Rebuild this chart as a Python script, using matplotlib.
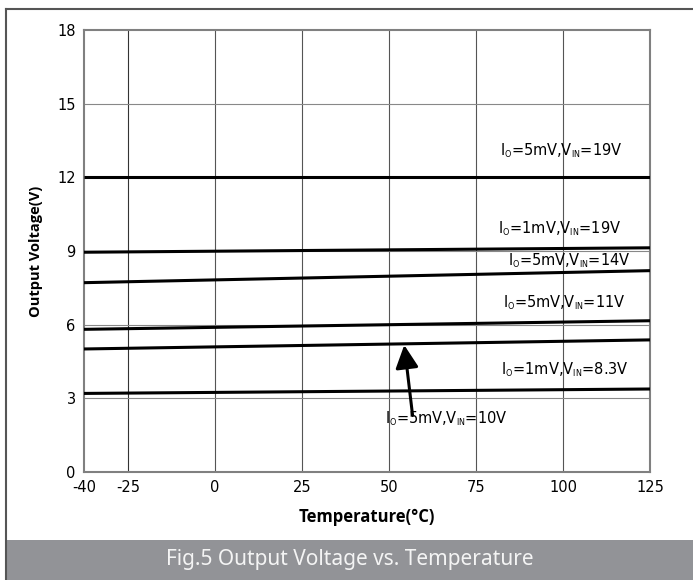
import numpy as np
import matplotlib
matplotlib.use("Agg")
import matplotlib.pyplot as plt
from matplotlib.lines import Line2D
from matplotlib.patches import Rectangle
from matplotlib import font_manager

try:
    import matplotlib._mathtext as _mt
    _mt.SHRINK_FACTOR = 0.55
except Exception:
    pass

# ---- data ----
temps = [-40, 125]
v_5mA_19V = [12.0, 12.0]
v_1mA_19V = [8.95, 9.13]
v_5mA_14V = [7.71, 8.20]
v_5mA_11V = [5.81, 6.16]
v_5mA_10V = [5.01, 5.38]
v_1mA_8V3 = [3.20, 3.38]

series = [v_5mA_19V, v_1mA_19V, v_5mA_14V, v_5mA_11V, v_5mA_10V, v_1mA_8V3]

labels = [
    r'I$_{\mathregular{O}}$=5mV,V$_{\mathregular{IN}}$=19V',
    r'I$_{\mathregular{O}}$=1mV,V$_{\mathregular{IN}}$=19V',
    r'I$_{\mathregular{O}}$=5mV,V$_{\mathregular{IN}}$=14V',
    r'I$_{\mathregular{O}}$=5mV,V$_{\mathregular{IN}}$=11V',
    r'I$_{\mathregular{O}}$=5mV,V$_{\mathregular{IN}}$=10V',
    r'I$_{\mathregular{O}}$=1mV,V$_{\mathregular{IN}}$=8.3V',
]
label_pos = [(99.5, 13.08), (99.2, 9.93), (101.8, 8.60), (100.4, 6.89), (66.4, 2.16), (100.5, 4.15)]

xticks = [-40, -25, 0, 25, 50, 75, 100, 125]
yticks = [0, 3, 6, 9, 12, 15, 18]

# pick a bold-capable sans family
bold_family = 'DejaVu Sans'
for fam in ['Open Sans', 'Lato', 'Noto Sans', 'Roboto']:
    try:
        fp = font_manager.FontProperties(family=fam, weight='bold')
        path = font_manager.findfont(fp, fallback_to_default=False)
        if 'bold' in path.lower() or 'black' in path.lower() or 'heavy' in path.lower():
            bold_family = fam
            break
    except Exception:
        pass

# ---- figure ----
W, H = 693, 580
fig = plt.figure(figsize=(W / 100, H / 100), dpi=100)
fig.patch.set_facecolor('white')

# outer frame
fig.add_artist(Line2D([6 / W, 6 / W], [0, 1 - 9 / H], transform=fig.transFigure, color='#555555', lw=1.5))
fig.add_artist(Line2D([6 / W, 1], [1 - 9 / H, 1 - 9 / H], transform=fig.transFigure, color='#555555', lw=1.5))
# caption band
fig.add_artist(Rectangle((7 / W, 0), 1 - 7 / W, 40 / H, transform=fig.transFigure,
                         facecolor='#929397', edgecolor='none'))
fig.text(350 / W, 20 / H, 'Fig.5 Output Voltage vs. Temperature', ha='center', va='center',
         color='#f4f4f4', fontsize=15, family='Noto Sans')

ax = fig.add_axes([84 / W, 1 - 472 / H, 566 / W, 442 / H])

k = 0.84
def fwd(x):
    x = np.asarray(x, dtype=float)
    return np.where(x < -25, -25 + (x + 25) * k, x)
def inv(y):
    y = np.asarray(y, dtype=float)
    return np.where(y < -25, -25 + (y + 25) / k, y)

ax.set_xscale('function', functions=(fwd, inv))
ax.set_xlim(-40, 125)
ax.set_ylim(0, 18)

# grid lines
for t in xticks[1:-1]:
    ax.axvline(t, color='#333333' if t == -25 else '#555555', lw=0.8, zorder=1)
for v in yticks[1:-1]:
    ax.axhline(v, color='#888888', lw=0.8, zorder=1)

for s in series:
    ax.plot(temps, s, color='black', lw=2.2, zorder=3, solid_capstyle='butt')

for lab, (x, y) in zip(labels, label_pos):
    ax.text(x, y, lab, ha='center', va='center', fontsize=10.5, family='DejaVu Sans', zorder=4)

ax.annotate('', xy=(54.4, 5.17), xytext=(56.8, 2.3),
            arrowprops=dict(arrowstyle='-|>,head_width=0.5,head_length=1.0', lw=2.2,
                            color='black', shrinkA=0, shrinkB=0, mutation_scale=14), zorder=5)

ax.set_xticks(xticks)
ax.set_xticklabels([str(t) for t in xticks], family='DejaVu Sans', fontsize=10.5)
ax.set_yticks(yticks)
ax.set_yticklabels([str(v) for v in yticks], family='DejaVu Sans', fontsize=10.5)
ax.tick_params(length=0, pad=6)
ax.xaxis.set_minor_locator(matplotlib.ticker.NullLocator())

for sp in ax.spines.values():
    sp.set_color('#808080')
    sp.set_linewidth(1.5)

ax.set_xlabel('Temperature(°C)', family=bold_family, fontweight='bold', fontsize=12, labelpad=9)
ax.set_ylabel('Output Voltage(V)', family=bold_family, fontweight='bold', fontsize=10.5, labelpad=10)

fig.savefig('out.png', dpi=100)
